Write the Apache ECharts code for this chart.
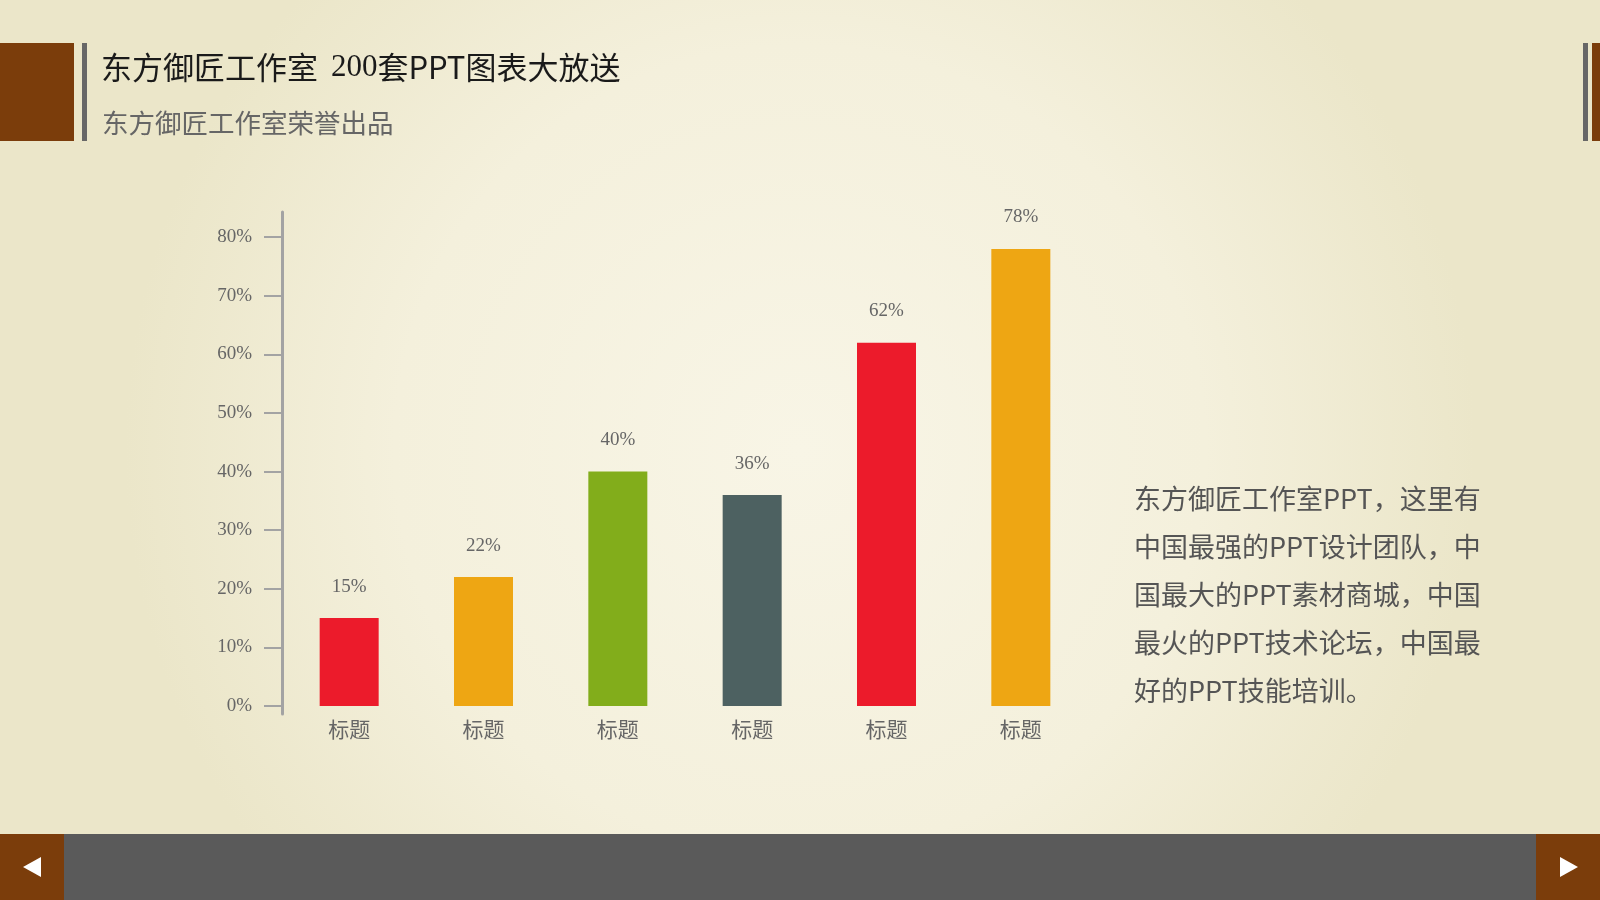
<!DOCTYPE html>
<html>
<head>
<meta charset="utf-8">
<script src="https://cdn.jsdelivr.net/npm/echarts@6/dist/echarts.min.js"></script>
<style>
  html, body { margin: 0; padding: 0; }
  #main { width: 1600px; height: 900px; }
</style>
</head>
<body>
<div id="main"></div>
<script>
// data
const categories = ['标题', '标题', '标题', '标题', '标题', '标题'];
const values = [15, 22, 40, 36, 62, 78];
const barColors = ['#ec1b2b', '#eea613', '#82ad1b', '#4d6161', '#ec1b2b', '#eea613'];
const yTicks = [0, 10, 20, 30, 40, 50, 60, 70, 80];

const titleText = '东方御匠工作室 {num|200}套PPT图表大放送';
const subText = '东方御匠工作室荣誉出品';
const bodyLines = [
  '东方御匠工作室PPT，这里有',
  '中国最强的PPT设计团队，中',
  '国最大的PPT素材商城，中国',
  '最火的PPT技术论坛，中国最',
  '好的PPT技能培训。'
];

const brown = '#7b3d0b';
const serif = '"Liberation Serif", "DejaVu Serif", serif';
const cjk = '"Noto Sans CJK SC", "Noto Sans", sans-serif';

var myChart = echarts.init(document.getElementById('main'));

myChart.setOption({
  backgroundColor: new echarts.graphic.RadialGradient(0.5, 0.5, 0.75, [
    {offset: 0, color: '#f8f5e6'},
    {offset: 0.6, color: '#f4f0dc'},
    {offset: 1, color: '#ebe6c9'}
  ]),
  title: [
    {
      text: titleText,
      left: 96, top: 47,
      textStyle: {
        fontFamily: cjk, fontSize: 31, fontWeight: 'normal', color: '#1a1a1a',
        rich: {num: {fontFamily: serif, fontSize: 31, color: '#1a1a1a', padding: [0, 0, 0, 6]}}
      }
    },
    {
      text: subText,
      left: 97, top: 105,
      textStyle: {fontFamily: cjk, fontSize: 26.5, fontWeight: 'normal', color: '#666'}
    },
    {
      text: bodyLines.join('\n'),
      left: 1129, top: 470,
      textStyle: {fontFamily: cjk, fontSize: 27, fontWeight: 'normal', color: '#555', lineHeight: 48}
    }
  ],
  graphic: [
    // header decoration
    {type: 'rect', shape: {x: 0, y: 43, width: 74, height: 98}, style: {fill: brown}},
    {type: 'rect', shape: {x: 82, y: 43, width: 5, height: 98}, style: {fill: '#676767'}},
    {type: 'rect', shape: {x: 1583, y: 43, width: 5, height: 98}, style: {fill: '#676767'}},
    {type: 'rect', shape: {x: 1592, y: 43, width: 8, height: 98}, style: {fill: brown}},
    // footer bar
    {type: 'rect', shape: {x: 0, y: 834, width: 1600, height: 66}, style: {fill: '#5a5a5a'}},
    {type: 'rect', shape: {x: 0, y: 834, width: 64, height: 66}, style: {fill: brown}},
    {type: 'rect', shape: {x: 1536, y: 834, width: 64, height: 66}, style: {fill: brown}},
    {type: 'polygon', shape: {points: [[23, 867], [41, 857], [41, 877]]}, style: {fill: '#fff'}},
    {type: 'polygon', shape: {points: [[1578, 867], [1560, 857], [1560, 877]]}, style: {fill: '#fff'}}
  ],
  grid: {left: 282, right: 512, top: 212, bottom: 186},
  xAxis: {
    type: 'category',
    data: categories,
    axisLine: {show: false},
    axisTick: {show: false},
    axisLabel: {fontFamily: cjk, fontSize: 21, color: '#666', margin: 5}
  },
  yAxis: {
    type: 'value',
    min: -1.36,
    max: 84.3,
    splitLine: {show: false},
    axisLine: {show: true, lineStyle: {color: '#a3a3a3', width: 3}},
    axisTick: {show: true, length: 18, customValues: yTicks, lineStyle: {color: '#a3a3a3', width: 2}},
    axisLabel: {
      customValues: yTicks,
      formatter: '{value}%',
      margin: 30,
      fontFamily: serif, fontSize: 19, color: '#666'
    }
  },
  series: [{
    type: 'bar',
    barWidth: 59,
    data: values.map((v, i) => ({value: v, itemStyle: {color: barColors[i]}})),
    label: {
      show: true,
      position: 'top',
      distance: 22,
      formatter: '{c}%',
      fontFamily: serif, fontSize: 19, color: '#666'
    }
  }]
});
</script>
</body>
</html>
